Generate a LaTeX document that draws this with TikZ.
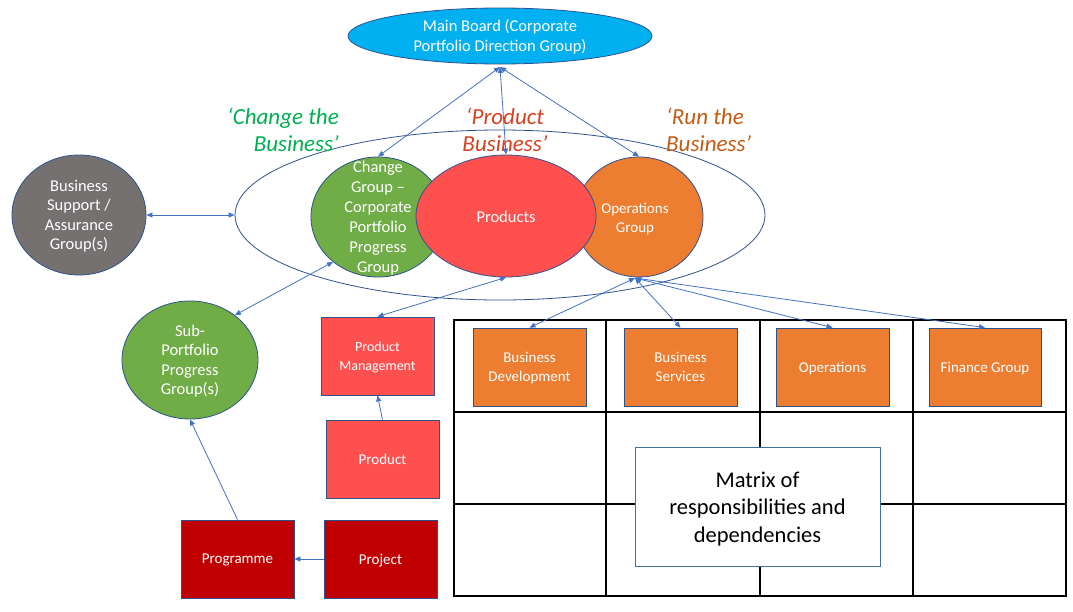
\documentclass[tikz,border=0pt]{standalone}
\usepackage{fontspec}
\setmainfont{Carlito}
\usetikzlibrary{shapes.geometric,arrows.meta}
\definecolor{mbblue}{HTML}{00B0F0}
\definecolor{edge}{HTML}{2F528F}
\definecolor{conncol}{HTML}{4472C4}
\definecolor{grn}{HTML}{70AD47}
\definecolor{redf}{HTML}{FF5050}
\definecolor{orgf}{HTML}{ED7D31}
\definecolor{grayf}{HTML}{767171}
\definecolor{dred}{HTML}{C00000}
\definecolor{lblgreen}{HTML}{00B050}
\definecolor{lblred}{HTML}{D9401F}
\definecolor{lblorange}{HTML}{C55A11}
\definecolor{mxedge}{HTML}{41719C}
\begin{document}
\begin{tikzpicture}[x=1pt,y=-1pt,
  ell/.style={ellipse, draw=edge, line width=0.8pt, inner sep=0pt},
  box/.style={rectangle, draw=edge, line width=0.8pt, minimum width=113pt, minimum height=78pt, inner sep=0pt, text=white, align=center, font=\fontsize{15}{19}\selectfont, text depth=0pt},
  wt/.style={text=white, align=center, inner sep=0pt},
  big/.style={font=\fontsize{16.5}{20}\selectfont},
  lbl/.style={font=\fontsize{23}{27}\selectfont\itshape, inner sep=0pt},
  conn/.style={draw=conncol, line width=0.8pt},
  one/.style={conn, -{Triangle[length=6pt,width=5pt]}},
  two/.style={conn, {Triangle[length=6pt,width=5pt]}-{Triangle[length=6pt,width=5pt]}}]
\useasboundingbox[fill=white] (0,0) rectangle (1073,611);

% table grid
\draw[line width=1.2pt, black] (454,320) rectangle (1066,596);
\foreach \xx in {606,760,913} \draw[line width=1.2pt, black] (\xx,320) -- (\xx,596);
\foreach \yy in {412,504} \draw[line width=1.2pt, black] (454,\yy) -- (1066,\yy);

% big ellipse
\node[ell, fill=none, minimum width=530pt, minimum height=170pt] (bigell) at (500,215) {};

% main board
\node[ell, fill=mbblue, minimum width=304pt, minimum height=56pt] (mb) at (500,36) {};
\node[wt, big] (mbt) at (500,37) {Main Board (Corporate\\Portfolio Direction Group)};

% circles
\node[ell, fill=grn, minimum width=134pt, minimum height=120pt] (cg) at (378,217) {};
\node[ell, fill=orgf, minimum width=128pt, minimum height=120pt] (og) at (639,217) {};
\node[ell, fill=redf, minimum width=180pt, minimum height=122pt] (pr) at (506,216) {};
\node[wt, big] (cgt) at (378,218) {Change\\Group –\\Corporate\\Portfolio\\Progress\\Group};
\node[wt, font=\fontsize{16.5}{20}\selectfont] (prt) at (506,217) {Products};
\node[wt, font=\fontsize{15}{19}\selectfont] (ogt) at (635,219) {Operations\\Group};

\node[ell, fill=grayf, minimum width=134pt, minimum height=120pt] (bs) at (79,215) {};
\node[wt, font=\fontsize{16.5}{19.5}\selectfont] (bst) at (79,216) {Business\\Support /\\Assurance\\Group(s)};
\node[ell, fill=grn, minimum width=136pt, minimum height=118pt] (sp) at (190,360) {};
\node[wt, font=\fontsize{16.5}{19.5}\selectfont] (spt) at (190,361) {Sub-\\Portfolio\\Progress\\Group(s)};

% labels
\node[lbl, text=lblgreen, align=right, anchor=east] (l1) at (339,130) {‘Change the\\Business’};
\node[lbl, text=lblred, align=center] (l2) at (505,130) {‘Product\\Business’};
\node[lbl, text=lblorange, align=left, anchor=west] (l3) at (666,130) {‘Run the\\Business’};

% red boxes
\node[box, fill=redf, font=\fontsize{14}{19}\selectfont] (pm) at (377.5,356) {Product\\Management};
\node[box, fill=redf] (pd) at (382.5,459) {Product};
\node[box, fill=dred] (pj) at (380.5,559) {Project};
\node[box, fill=dred] (pg) at (237.5,559) {Programme};

% table boxes
\node[box, fill=orgf] (bd) at (529.5,367) {Business\\Development};
\node[box, fill=orgf] (bsv) at (680.5,367) {Business\\Services};
\node[box, fill=orgf] (op) at (832.5,367) {Operations};
\node[box, fill=orgf, minimum width=112pt] (fg) at (985,367) {Finance Group};

% matrix box
\node[draw=mxedge, line width=0.8pt, fill=white, minimum width=245pt, minimum height=119pt, inner sep=0pt] (mx) at (757.5,506.5) {};
\node[align=center, inner sep=0pt, font=\fontsize{22.5}{27.5}\selectfont] (mxt) at (757.5,509) {Matrix of\\responsibilities and\\dependencies};

% connectors
\coordinate (mbb) at (500,67);
\draw[two] (mbb) -- (cg.north);
\draw[two] (mbb) -- (pr.north);
\draw[two] (mbb) -- (og.north);
\draw[two] (bs.east) -- (bigell.west);
\draw[two] (sp.45) -- (cg.225);
\draw[two] (pm.north) -- (pr.south);
\draw[one] (pd.north) -- (pm.south);
\draw[one] (pg.north) -- (sp.south);
\draw[one] (pj.west) -- (pg.east);
\coordinate (ogb) at (635,278);
\draw[two] (ogb) -- (bd.north);
\draw[two] (ogb) -- (bsv.north);
\draw[two] (ogb) -- (op.north);
\draw[two] (ogb) -- (fg.north);
\end{tikzpicture}
\end{document}
